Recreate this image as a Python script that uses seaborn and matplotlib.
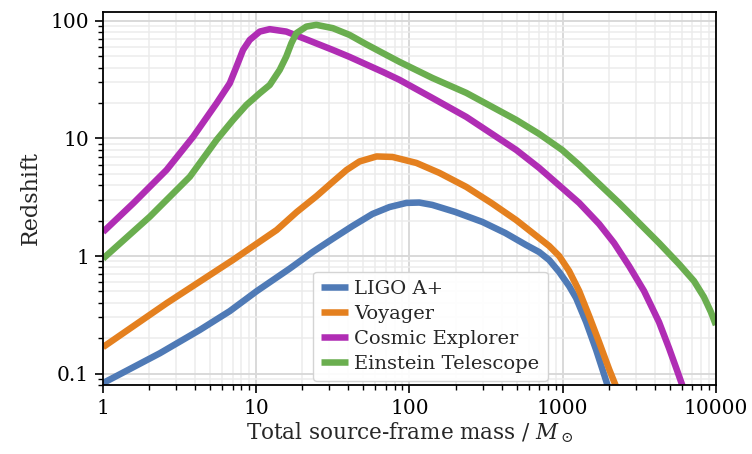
import numpy as np
import pandas as pd
import matplotlib
matplotlib.use("Agg")
import matplotlib.pyplot as plt
import seaborn as sns
from matplotlib.ticker import LogLocator, FuncFormatter, NullFormatter

# ---- data ----
detectors = ["LIGO A+", "Voyager", "Cosmic Explorer", "Einstein Telescope"]
colors = ["#4f7ab6", "#e4801f", "#b02db4", "#6aae4f"]

mass_ligo = [1, 2.35, 4.28, 6.72, 10.1, 16.5, 23.3, 31.5, 42.5, 57.4, 74.1, 95.6, 116,
             141, 199, 299, 422, 578, 703, 817, 949, 1102, 1224, 1423, 1653, 1808, 1978]
z_ligo = [0.083, 0.149, 0.235, 0.34, 0.504, 0.78, 1.08, 1.40, 1.80, 2.28, 2.61, 2.83,
          2.85, 2.72, 2.37, 1.95, 1.57, 1.24, 1.08, 0.924, 0.731, 0.555, 0.439, 0.274,
          0.159, 0.111, 0.077]

mass_voy = [1, 2.61, 7.03, 13.6, 18.4, 24.8, 31.5, 38.9, 47.2, 61.0, 77.5, 111, 157,
            235, 342, 498, 817, 949, 1102, 1281, 1488, 1729, 2009, 2231]
z_voy = [0.168, 0.398, 0.924, 1.665, 2.37, 3.24, 4.26, 5.40, 6.37, 7.03, 6.96, 6.19,
         5.09, 3.87, 2.83, 2.02, 1.216, 1.0, 0.745, 0.504, 0.309, 0.185, 0.109, 0.0775]

mass_ce = [1, 1.576, 2.60, 3.88, 5.51, 6.72, 7.43, 8.20, 9.07, 10.54, 12.25, 15.7, 22.3,
           31.6, 40.6, 67.0, 86.1, 141, 235, 498, 703, 992, 1281, 1729, 2165, 2712,
           3396, 4254, 4941, 5570, 6095]
z_ce = [1.60, 2.81, 5.40, 10.36, 19.93, 29.5, 40.8, 56.6, 68.9, 81.1, 85.0, 81.1, 67.8,
        56.6, 49.4, 36.8, 31.5, 22.1, 15.24, 7.98, 5.61, 3.79, 2.83, 1.873, 1.29, 0.822,
        0.504, 0.274, 0.165, 0.107, 0.0767]

mass_et = [1, 2.02, 3.69, 5.51, 7.06, 8.63, 10.54, 12.25, 14.23, 15.7, 16.96, 18.28,
           21.23, 24.67, 31.6, 40.6, 51.7, 66.7, 86.1, 141, 235, 498, 703, 992, 1281,
           1729, 2334, 3151, 4254, 5741, 7191, 8352, 9277, 10000]
z_et = [0.950, 2.16, 4.73, 9.71, 14.37, 19.28, 24.25, 28.5, 38.3, 49.7, 64.6, 78.6,
        89.4, 92.5, 86.7, 76.0, 63.7, 53.4, 44.8, 32.7, 24.4, 14.37, 10.92, 7.98, 5.95,
        4.10, 2.83, 1.91, 1.29, 0.855, 0.613, 0.448, 0.334, 0.259]

x_ticks = [1, 10, 100, 1000, 10000]
y_ticks = [0.1, 1, 10, 100]

frames = []
for name, m, z in zip(detectors, [mass_ligo, mass_voy, mass_ce, mass_et],
                      [z_ligo, z_voy, z_ce, z_et]):
    frames.append(pd.DataFrame({"mass": m, "z": z, "detector": name}))
df = pd.concat(frames, ignore_index=True)

sns.set_theme(style="white")
plt.rcParams["font.family"] = ["DejaVu Serif"]
plt.rcParams["mathtext.fontset"] = "dejavuserif"

fig = plt.figure(figsize=(7.52, 4.54), dpi=100)
ax = fig.add_axes([0.137, 0.152, 0.815, 0.8216])

sns.lineplot(data=df, x="mass", y="z", hue="detector", hue_order=detectors,
             palette=colors, sort=False, estimator=None, linewidth=4.7,
             solid_capstyle="butt", solid_joinstyle="round", ax=ax)

ax.set_xscale("log")
ax.set_yscale("log")
ax.set_xlim(1, 10000)
ax.set_ylim(0.08, 119)

ax.set_xticks(x_ticks)
ax.set_yticks(y_ticks)
fmt = FuncFormatter(lambda v, p: f"{v:g}")
ax.xaxis.set_major_formatter(fmt)
ax.yaxis.set_major_formatter(fmt)
ax.xaxis.set_minor_locator(LogLocator(base=10, subs=np.arange(2, 10), numticks=20))
ax.yaxis.set_minor_locator(LogLocator(base=10, subs=np.arange(2, 10), numticks=20))
ax.xaxis.set_minor_formatter(NullFormatter())
ax.yaxis.set_minor_formatter(NullFormatter())

ax.set_axisbelow(True)
ax.grid(which="major", color="#d9d9d9", linewidth=1.4)
ax.grid(which="minor", color="#ececec", linewidth=1.1)

for s in ax.spines.values():
    s.set_color("black")
    s.set_linewidth(1.3)
ax.tick_params(which="major", direction="out", length=6, width=1.2,
               labelsize=14.5, colors="black", bottom=True, left=True, pad=4)
ax.tick_params(which="minor", direction="out", length=3.5, width=1.0,
               colors="black", bottom=True, left=True)

ax.set_xlabel(r"Total source-frame mass / $M_\odot$", fontsize=15.5, labelpad=2)
ax.set_ylabel("Redshift", fontsize=16, labelpad=6)

leg = ax.legend(loc="lower left", bbox_to_anchor=(0.3426, 0.011), borderaxespad=0,
                fontsize=14, frameon=True, fancybox=True, framealpha=0.9,
                edgecolor="#d0d0d0", handlelength=1.4, labelspacing=0.36,
                borderpad=0.42, handletextpad=0.3)
for line in leg.get_lines():
    line.set_linewidth(4.7)

fig.savefig("out.png", dpi=100)
